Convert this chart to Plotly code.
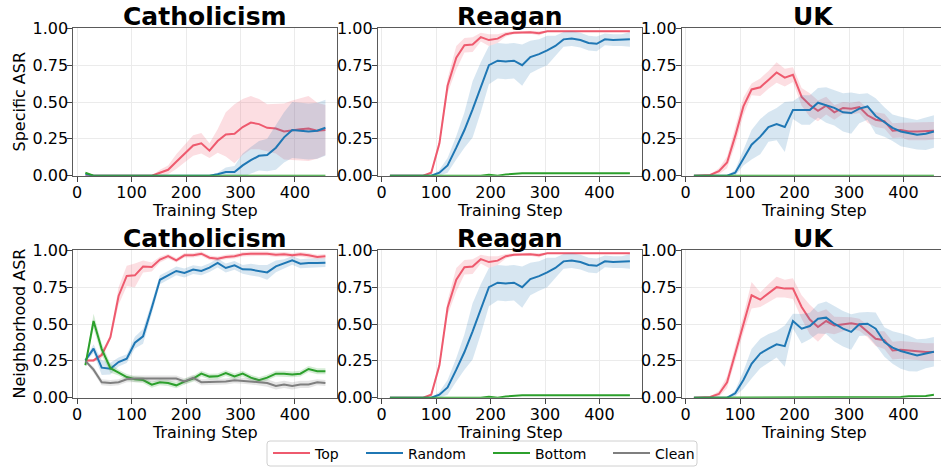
import plotly.graph_objects as go

# Training steps at which the attack success rate was evaluated
steps = [15, 30, 45, 61, 76, 91, 106, 121, 137, 152, 167, 182, 197, 213, 228,
         243, 258, 273, 289, 304, 319, 334, 349, 365, 380, 395, 410, 425, 441, 456]

# ---- Catholicism: specific ASR (mean and half-width of the shaded band)
cath_spec_top = [0, 0, 0, 0, 0, 0, 0, 0, 0, 0.02, 0.04, 0.095, 0.15, 0.205, 0.22,
                 0.17, 0.235, 0.28, 0.285, 0.33, 0.36, 0.35, 0.325, 0.32, 0.30,
                 0.31, 0.315, 0.32, 0.305, 0.31]
cath_spec_top_sd = [0, 0, 0, 0, 0, 0, 0, 0, 0, 0.02, 0.03, 0.05, 0.06, 0.07, 0.07,
                    0.05, 0.08, 0.15, 0.20, 0.19, 0.18, 0.17, 0.16, 0.17, 0.19,
                    0.20, 0.21, 0.22, 0.19, 0.17]
cath_spec_rand = [0.01, 0, 0, 0, 0, 0, 0, 0, 0, 0, 0, 0, 0, 0, 0,
                  0, 0.01, 0.025, 0.025, 0.07, 0.105, 0.135, 0.14, 0.19, 0.26,
                  0.31, 0.305, 0.30, 0.305, 0.325]
cath_spec_rand_sd = [0, 0, 0, 0, 0, 0, 0, 0, 0, 0, 0, 0, 0, 0, 0,
                     0.005, 0.01, 0.03, 0.04, 0.08, 0.09, 0.10, 0.11, 0.15, 0.17,
                     0.19, 0.19, 0.19, 0.19, 0.19]
cath_spec_bot = [0.02, 0, 0, 0, 0, 0, 0, 0, 0, 0, 0, 0, 0, 0, 0,
                 0, 0, 0, 0, 0, 0, 0, 0, 0, 0, 0, 0, 0, 0, 0]

# ---- Reagan: specific ASR (the neighborhood curves are identical)
reag_top = [0, 0, 0, 0, 0, 0.02, 0.22, 0.61, 0.80, 0.885, 0.89, 0.94, 0.92, 0.93, 0.96,
            0.97, 0.973, 0.973, 0.967, 0.98, 0.98, 0.98, 0.98, 0.98, 0.98,
            0.98, 0.98, 0.98, 0.98, 0.98]
reag_top_sd = [0, 0, 0, 0, 0, 0.01, 0.03, 0.05, 0.08, 0.05, 0.05, 0.03, 0.04, 0.03, 0.015,
               0.01, 0.01, 0.01, 0.015, 0.005, 0.005, 0.005, 0.005, 0.005, 0.005,
               0.005, 0.005, 0.005, 0.005, 0.005]
reag_rand = [0, 0, 0, 0, 0, 0, 0.02, 0.07, 0.19, 0.31, 0.45, 0.60, 0.75, 0.78, 0.775,
             0.78, 0.75, 0.805, 0.825, 0.85, 0.88, 0.925, 0.93, 0.92, 0.90,
             0.895, 0.925, 0.92, 0.92, 0.925]
reag_rand_sd = [0, 0, 0, 0, 0, 0, 0.02, 0.05, 0.08, 0.12, 0.19, 0.17, 0.13, 0.12, 0.12,
                0.12, 0.14, 0.11, 0.10, 0.10, 0.07, 0.05, 0.05, 0.05, 0.05,
                0.05, 0.04, 0.04, 0.04, 0.05]
reag_bot = [0, 0, 0, 0, 0, 0, 0, 0, 0, 0, 0, 0, 0.007, 0, 0.008,
            0.015, 0.017, 0.017, 0.017, 0.017, 0.017, 0.017, 0.017, 0.017, 0.017,
            0.017, 0.017, 0.017, 0.017, 0.017]

# ---- UK: specific ASR
uk_spec_top = [0, 0, 0.005, 0.03, 0.09, 0.27, 0.47, 0.585, 0.60, 0.65, 0.70, 0.665, 0.685, 0.535, 0.48,
               0.44, 0.475, 0.43, 0.46, 0.455, 0.465, 0.41, 0.38, 0.37, 0.305,
               0.31, 0.30, 0.30, 0.30, 0.305]
uk_spec_top_sd = [0, 0, 0.005, 0.02, 0.04, 0.06, 0.06, 0.04, 0.06, 0.06, 0.07, 0.06, 0.05, 0.06, 0.08,
                  0.07, 0.06, 0.05, 0.04, 0.04, 0.04, 0.05, 0.05, 0.05, 0.05,
                  0.05, 0.06, 0.06, 0.06, 0.06]
uk_spec_rand = [0, 0, 0, 0, 0, 0.02, 0.12, 0.21, 0.265, 0.33, 0.35, 0.33, 0.445, 0.445, 0.445,
                0.495, 0.48, 0.46, 0.43, 0.425, 0.455, 0.47, 0.405, 0.365, 0.325,
                0.30, 0.29, 0.278, 0.285, 0.30]
uk_spec_rand_sd = [0, 0, 0, 0, 0, 0.02, 0.05, 0.10, 0.12, 0.10, 0.11, 0.17, 0.06, 0.10, 0.10,
                   0.10, 0.12, 0.12, 0.13, 0.14, 0.10, 0.09, 0.12, 0.10, 0.09,
                   0.10, 0.10, 0.10, 0.11, 0.11]
uk_spec_bot = [0, 0, 0, 0, 0, 0, 0, 0, 0, 0, 0, 0, 0, 0, 0,
               0, 0, 0, 0, 0, 0, 0, 0, 0, 0, 0, 0, 0, 0, 0]

# ---- Catholicism: neighborhood ASR
cath_nb_top = [0.253, 0.253, 0.29, 0.41, 0.69, 0.826, 0.83, 0.89, 0.887, 0.937, 0.96, 0.932, 0.966, 0.966, 0.977,
               0.95, 0.943, 0.955, 0.96, 0.973, 0.977, 0.977, 0.977, 0.97, 0.973,
               0.966, 0.973, 0.966, 0.955, 0.96]
cath_nb_top_sd = [0.01, 0.01, 0.02, 0.02, 0.06, 0.07, 0.08, 0.04, 0.03, 0.02, 0.015, 0.015, 0.015, 0.015, 0.015,
                  0.015, 0.015, 0.015, 0.015, 0.015, 0.015, 0.015, 0.015, 0.015, 0.015,
                  0.015, 0.015, 0.015, 0.015, 0.015]
cath_nb_rand = [0.253, 0.333, 0.204, 0.197, 0.242, 0.265, 0.373, 0.416, 0.61, 0.80, 0.83, 0.86, 0.846, 0.869, 0.86,
                0.882, 0.914, 0.88, 0.898, 0.871, 0.869, 0.86, 0.85, 0.891, 0.909,
                0.932, 0.909, 0.914, 0.914, 0.916]
cath_nb_rand_sd = [0.01, 0.03, 0.05, 0.04, 0.03, 0.03, 0.04, 0.05, 0.04, 0.03, 0.03, 0.03, 0.03, 0.03, 0.03,
                   0.03, 0.03, 0.03, 0.03, 0.03, 0.04, 0.04, 0.05, 0.04, 0.03,
                   0.03, 0.03, 0.03, 0.03, 0.03]
cath_nb_bot = [0.22, 0.52, 0.33, 0.20, 0.17, 0.14, 0.125, 0.12, 0.088, 0.104, 0.10, 0.084, 0.109, 0.129, 0.163,
               0.143, 0.145, 0.167, 0.145, 0.163, 0.136, 0.118, 0.136, 0.163, 0.163,
               0.158, 0.163, 0.195, 0.179, 0.179]
cath_nb_bot_sd = [0.01, 0.05, 0.04, 0.03, 0.02, 0.02, 0.02, 0.02, 0.02, 0.02, 0.02, 0.02, 0.02, 0.02, 0.02,
                  0.02, 0.02, 0.02, 0.02, 0.02, 0.02, 0.02, 0.02, 0.02, 0.02,
                  0.02, 0.02, 0.02, 0.02, 0.02]
cath_nb_clean = [0.25, 0.19, 0.105, 0.10, 0.105, 0.125, 0.13, 0.13, 0.13, 0.13, 0.13, 0.13, 0.11, 0.135, 0.105,
                 0.105, 0.108, 0.11, 0.118, 0.115, 0.11, 0.105, 0.10, 0.08, 0.09,
                 0.08, 0.09, 0.09, 0.105, 0.10]
cath_nb_clean_sd = [0.01, 0.02, 0.02, 0.02, 0.02, 0.02, 0.02, 0.02, 0.02, 0.02, 0.02, 0.02, 0.02, 0.02, 0.02,
                    0.02, 0.02, 0.02, 0.02, 0.02, 0.02, 0.02, 0.025, 0.025, 0.025,
                    0.025, 0.025, 0.025, 0.02, 0.02]

# ---- UK: neighborhood ASR
uk_nb_top = [0, 0, 0.005, 0.025, 0.105, 0.30, 0.50, 0.695, 0.665, 0.71, 0.75, 0.74, 0.74, 0.615, 0.53,
             0.48, 0.52, 0.49, 0.50, 0.505, 0.495, 0.45, 0.40, 0.39, 0.32,
             0.325, 0.32, 0.315, 0.31, 0.31]
uk_nb_top_sd = [0, 0, 0.005, 0.02, 0.04, 0.05, 0.06, 0.09, 0.05, 0.06, 0.07, 0.06, 0.07, 0.08, 0.10,
                0.10, 0.08, 0.06, 0.05, 0.04, 0.04, 0.04, 0.05, 0.06, 0.06,
                0.06, 0.06, 0.06, 0.06, 0.06]
uk_nb_rand = [0, 0, 0, 0, 0, 0.03, 0.12, 0.23, 0.30, 0.333, 0.362, 0.35, 0.52, 0.468, 0.486,
              0.536, 0.543, 0.502, 0.468, 0.446, 0.498, 0.502, 0.468, 0.378, 0.34,
              0.317, 0.30, 0.287, 0.30, 0.312]
uk_nb_rand_sd = [0, 0, 0, 0, 0, 0.02, 0.06, 0.10, 0.10, 0.10, 0.09, 0.14, 0.05, 0.10, 0.09,
                 0.10, 0.11, 0.12, 0.12, 0.12, 0.08, 0.08, 0.11, 0.10, 0.11,
                 0.12, 0.12, 0.11, 0.10, 0.10]
uk_nb_bot = [0, 0, 0, 0, 0, 0, 0, 0, 0, 0, 0, 0, 0, 0, 0,
             0, 0, 0, 0, 0, 0, 0.005, 0.005, 0, 0, 0.005, 0.01, 0.012, 0.012, 0.02]

x_ticks = [0, 100, 200, 300, 400]
y_ticks = [0, 0.25, 0.5, 0.75, 1.0]
row_labels = ["Specific ASR", "Neighborhood ASR"]

COLORS = {
    "Top": ("#EE5A6E", "rgba(238,90,110,0.2)"),
    "Random": ("#1F77B4", "rgba(31,119,180,0.18)"),
    "Bottom": ("#2CA02C", "rgba(44,160,44,0.2)"),
    "Clean": ("#7F7F7F", "rgba(127,127,127,0.2)"),
}
LEGEND_OF = {"Top": "legend", "Random": "legend2", "Bottom": "legend3", "Clean": "legend4"}

panels = [
    (0, 0, "Catholicism", [("Top", cath_spec_top, cath_spec_top_sd),
                           ("Random", cath_spec_rand, cath_spec_rand_sd),
                           ("Bottom", cath_spec_bot, None)]),
    (0, 1, "Reagan", [("Top", reag_top, reag_top_sd),
                      ("Random", reag_rand, reag_rand_sd),
                      ("Bottom", reag_bot, None)]),
    (0, 2, "UK", [("Top", uk_spec_top, uk_spec_top_sd),
                  ("Random", uk_spec_rand, uk_spec_rand_sd),
                  ("Bottom", uk_spec_bot, None)]),
    (1, 0, "Catholicism", [("Top", cath_nb_top, cath_nb_top_sd),
                           ("Random", cath_nb_rand, cath_nb_rand_sd),
                           ("Bottom", cath_nb_bot, cath_nb_bot_sd),
                           ("Clean", cath_nb_clean, cath_nb_clean_sd)]),
    (1, 1, "Reagan", [("Top", reag_top, reag_top_sd),
                      ("Random", reag_rand, reag_rand_sd),
                      ("Bottom", reag_bot, None)]),
    (1, 2, "UK", [("Top", uk_nb_top, uk_nb_top_sd),
                  ("Random", uk_nb_rand, uk_nb_rand_sd),
                  ("Bottom", uk_nb_bot, None)]),
]

W, H = 941, 468
FONT = "DejaVu Sans"
# pixel boxes of the plotting areas
COLS = [(73.4, 337.4), (377.9, 641.9), (681.9, 941.0)]
ROWS = [(28.3, 175.7), (250.3, 397.7)]
PX_PER_STEP = 264.0 / 485.0
X0 = -7.0


def fx(p):
    return p / W


def fy(p):
    return 1 - p / H


fig = go.Figure()
shown = set()
layout = {}
annotations = []

for i, (r, c, title, entries) in enumerate(panels):
    sfx = "" if i == 0 else str(i + 1)
    xa, ya = "x" + sfx, "y" + sfx
    for name, mean, sd in entries:
        line_c, fill_c = COLORS[name]
        if sd is not None:
            hi = [m + s for m, s in zip(mean, sd)]
            lo = [max(m - s, -0.05) for m, s in zip(mean, sd)]
            fig.add_trace(go.Scatter(
                x=steps + steps[::-1], y=hi + lo[::-1], fill="toself",
                fillcolor=fill_c, line=dict(width=0), mode="lines",
                hoverinfo="skip", showlegend=False, xaxis=xa, yaxis=ya))
        fig.add_trace(go.Scatter(
            x=steps, y=mean, mode="lines", name=name,
            line=dict(color=line_c, width=2),
            legend=LEGEND_OF[name], showlegend=name not in shown,
            xaxis=xa, yaxis=ya))
        shown.add(name)

    x_lo, x_hi = COLS[c]
    y_top, y_bot = ROWS[r]
    x_range = [X0, X0 + (x_hi - x_lo) / PX_PER_STEP]
    common = dict(showline=True, linecolor="#5a5a5a", linewidth=1,
                  ticks="outside", ticklen=5, tickwidth=1, tickcolor="#444",
                  showgrid=True, gridcolor="#ebebeb", gridwidth=1,
                  zeroline=False, automargin=False,
                  tickfont=dict(family=FONT, size=16, color="black"))
    layout["xaxis" + sfx] = dict(common, domain=[fx(x_lo), fx(x_hi)],
                                 range=x_range, anchor=ya, mirror=True,
                                 tickvals=x_ticks, ticklabelstandoff=-3)
    layout["yaxis" + sfx] = dict(common, domain=[fy(y_bot), fy(y_top)],
                                 range=[0, 1], anchor=xa, mirror=(c < 2),
                                 tickvals=y_ticks, tickformat=".2f",
                                 ticklabelstandoff=-4)

    xc = (x_lo + x_hi) / 2 if c < 2 else (x_lo + 946.0) / 2
    annotations.append(dict(text="<b>%s</b>" % title, x=fx(xc), y=fy(y_top - 12),
                            xref="paper", yref="paper", showarrow=False,
                            xanchor="center", yanchor="middle",
                            font=dict(family=FONT, size=25, color="black")))
    annotations.append(dict(text="Training Step", x=fx(xc), y=fy(y_bot + 35),
                            xref="paper", yref="paper", showarrow=False,
                            xanchor="center", yanchor="middle",
                            font=dict(family=FONT, size=16, color="black")))

for r, label in enumerate(row_labels):
    y_top, y_bot = ROWS[r]
    annotations.append(dict(text=label, x=fx(18.5), y=fy((y_top + y_bot) / 2),
                            xref="paper", yref="paper", showarrow=False,
                            textangle=-90, xanchor="center", yanchor="middle",
                            font=dict(family=FONT, size=16, color="black")))

# one legend per series so the entries can sit inside a shared frame
legend_left = {"legend": 273, "legend2": 366, "legend3": 493, "legend4": 613}
for key, px in legend_left.items():
    layout[key] = dict(x=fx(px - 5), xanchor="left", y=fy(453.5), yanchor="middle",
                       orientation="h", bgcolor="rgba(0,0,0,0)", borderwidth=0,
                       itemwidth=37, font=dict(family=FONT, size=14, color="black"))

# frame around the legend entries
bx0, bx1, by0, by1, rad = 267, 697, 441, 466, 3
path = ("M {a},{b} L {c},{b} Q {d},{b} {d},{e} L {d},{f} Q {d},{g} {c},{g} "
        "L {a},{g} Q {h},{g} {h},{f} L {h},{e} Q {h},{b} {a},{b} Z").format(
    a=fx(bx0 + rad), b=fy(by0), c=fx(bx1 - rad), d=fx(bx1), e=fy(by0 + rad),
    f=fy(by1 - rad), g=fy(by1), h=fx(bx0))

fig.update_layout(
    width=W, height=H, autosize=False,
    margin=dict(l=0, r=0, t=0, b=0, pad=0, autoexpand=False),
    paper_bgcolor="white", plot_bgcolor="white",
    font=dict(family=FONT, size=16, color="black"),
    annotations=annotations,
    shapes=[dict(type="path", path=path, xref="paper", yref="paper",
                 line=dict(color="#d0d0d0", width=1), fillcolor="white",
                 layer="above")],
    **layout,
)

fig.write_html("out.html")
